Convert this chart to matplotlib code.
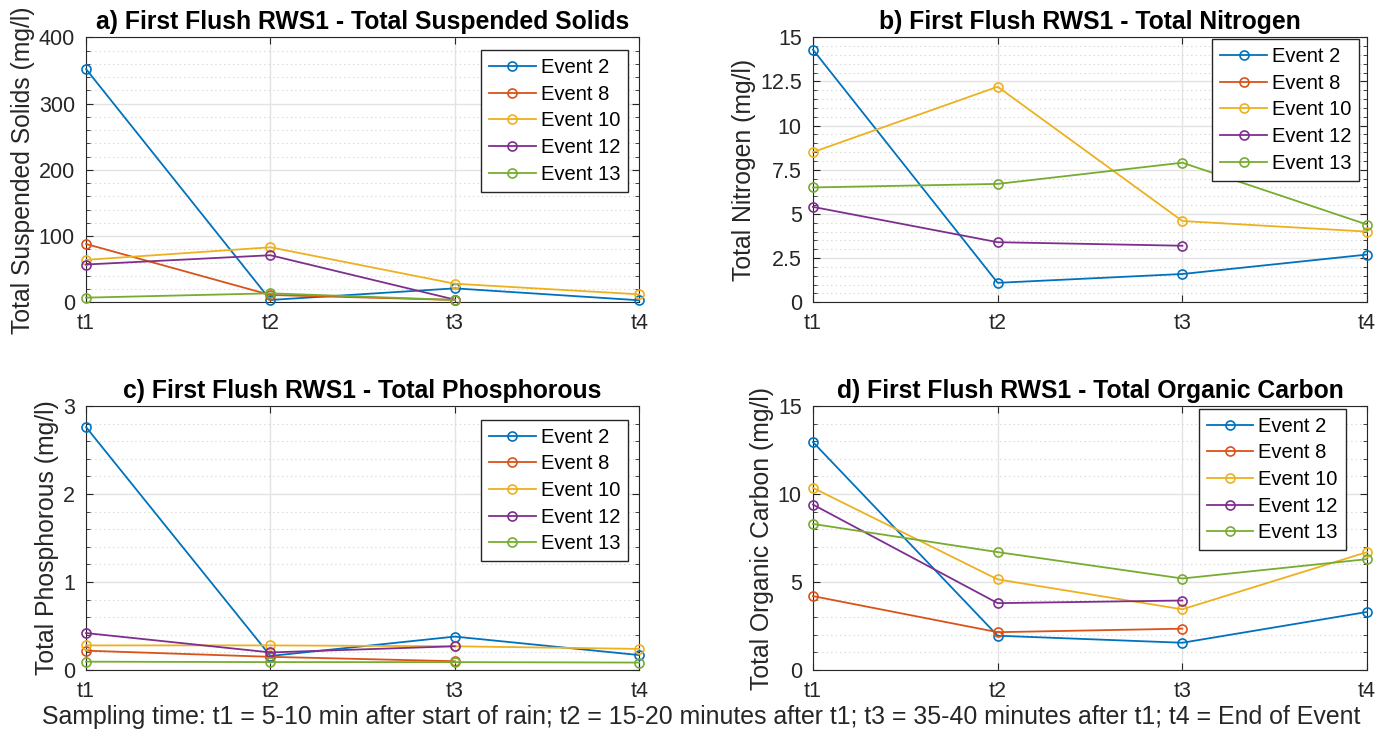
import numpy as np
import matplotlib.pyplot as plt
from matplotlib.ticker import MultipleLocator, FormatStrFormatter

plt.rcParams['font.family'] = ['Liberation Sans', 'DejaVu Sans']

times = ['t1', 't2', 't3', 't4']
events = ['Event 2', 'Event 8', 'Event 10', 'Event 12', 'Event 13']
colors = ['#0072BD', '#D95319', '#EDB120', '#7E2F8E', '#77AC30']
nan = np.nan

# a) total suspended solids (mg/l)
tss = [[352, 3.5, 21, 3],
       [88, 11, 3.5, nan],
       [64, 83, 28, 12],
       [57, 71, 4, nan],
       [7, 13.5, 3.5, nan]]

# b) total nitrogen (mg/l)
tn = [[14.3, 1.1, 1.6, 2.7],
      [nan, nan, nan, nan],
      [8.5, 12.2, 4.6, 4.0],
      [5.4, 3.4, 3.2, nan],
      [6.5, 6.7, 7.9, 4.4]]

# c) total phosphorous (mg/l)
tp = [[2.76, 0.16, 0.38, 0.17],
      [0.22, 0.15, 0.10, nan],
      [0.28, 0.28, 0.27, 0.24],
      [0.42, 0.20, 0.27, nan],
      [0.095, 0.09, 0.09, 0.085]]

# d) total organic carbon (mg/l)
toc = [[12.95, 1.95, 1.55, 3.3],
       [4.2, 2.15, 2.35, nan],
       [10.35, 5.15, 3.45, 6.7],
       [9.4, 3.8, 3.95, nan],
       [8.3, 6.7, 5.2, 6.3]]

panels = [
    (tss, 'a) First Flush RWS1 - Total Suspended Solids', 'Total Suspended Solids (mg/l)',
     400, 100, 20, [0.062, 0.5865, 0.3985, 0.3625], (0.98, 0.952)),
    (tn, 'b) First Flush RWS1 - Total Nitrogen', 'Total Nitrogen (mg/l)',
     15, 2.5, 0.5, [0.5857, 0.5865, 0.3992, 0.3625], (0.986, 0.993)),
    (tp, 'c) First Flush RWS1 - Total Phosphorous', 'Total Phosphorous (mg/l)',
     3, 1, 0.2, [0.062, 0.0834, 0.3985, 0.3612], (0.98, 0.948)),
    (toc, 'd) First Flush RWS1 - Total Organic Carbon', 'Total Organic Carbon (mg/l)',
     15, 5, 1, [0.5857, 0.0834, 0.3992, 0.3612], (0.962, 0.99)),
]

fig = plt.figure(figsize=(13.88, 7.31), dpi=100)
x = np.arange(len(times))

for data, title, ylabel, ymax, major, minor, rect, anchor in panels:
    ax = fig.add_axes(rect)
    for vals, name, c in zip(data, events, colors):
        ax.plot(x, vals, '-o', color=c, lw=1.3, ms=6.5, mfc='none', mew=1.2,
                label=name, clip_on=False, zorder=3)
    ax.set_xlim(0, 3)
    ax.set_ylim(0, ymax)
    ax.set_xticks(x)
    ax.set_xticklabels(times)
    ax.yaxis.set_major_locator(MultipleLocator(major))
    ax.yaxis.set_minor_locator(MultipleLocator(minor))
    ax.yaxis.set_major_formatter(FormatStrFormatter('%g'))
    ax.grid(True, which='major', color='#e3e3e3', lw=1)
    ax.grid(True, which='minor', axis='y', color='#d0d0d0', lw=0.8, ls=(0, (1, 3)))
    ax.set_axisbelow(True)
    ax.tick_params(which='both', direction='in', top=True, right=True,
                   labelsize=15.5, colors='#262626', pad=8)
    ax.tick_params(which='major', length=5)
    ax.tick_params(which='minor', length=3)
    for s in ax.spines.values():
        s.set_color('#262626')
    ax.set_title(title, fontsize=17.8, fontweight='bold', pad=6)
    ax.set_ylabel(ylabel, fontsize=17.8, color='#262626', labelpad=3)
    leg = ax.legend(loc='upper right', bbox_to_anchor=anchor, fontsize=14.5,
                    fancybox=False, framealpha=1, edgecolor='#262626',
                    handlelength=2.3, labelspacing=0.38, borderpad=0.4,
                    handletextpad=0.25, borderaxespad=0)
    leg.get_frame().set_linewidth(1)

fig.text(0.505, 1 - 717 / 731, 'Sampling time: t1 = 5-10 min after start of rain; '
         't2 = 15-20 minutes after t1; t3 = 35-40 minutes after t1; t4 = End of Event',
         ha='center', va='center', fontsize=17.9, color='#262626')

plt.savefig('out.png', dpi=100)
